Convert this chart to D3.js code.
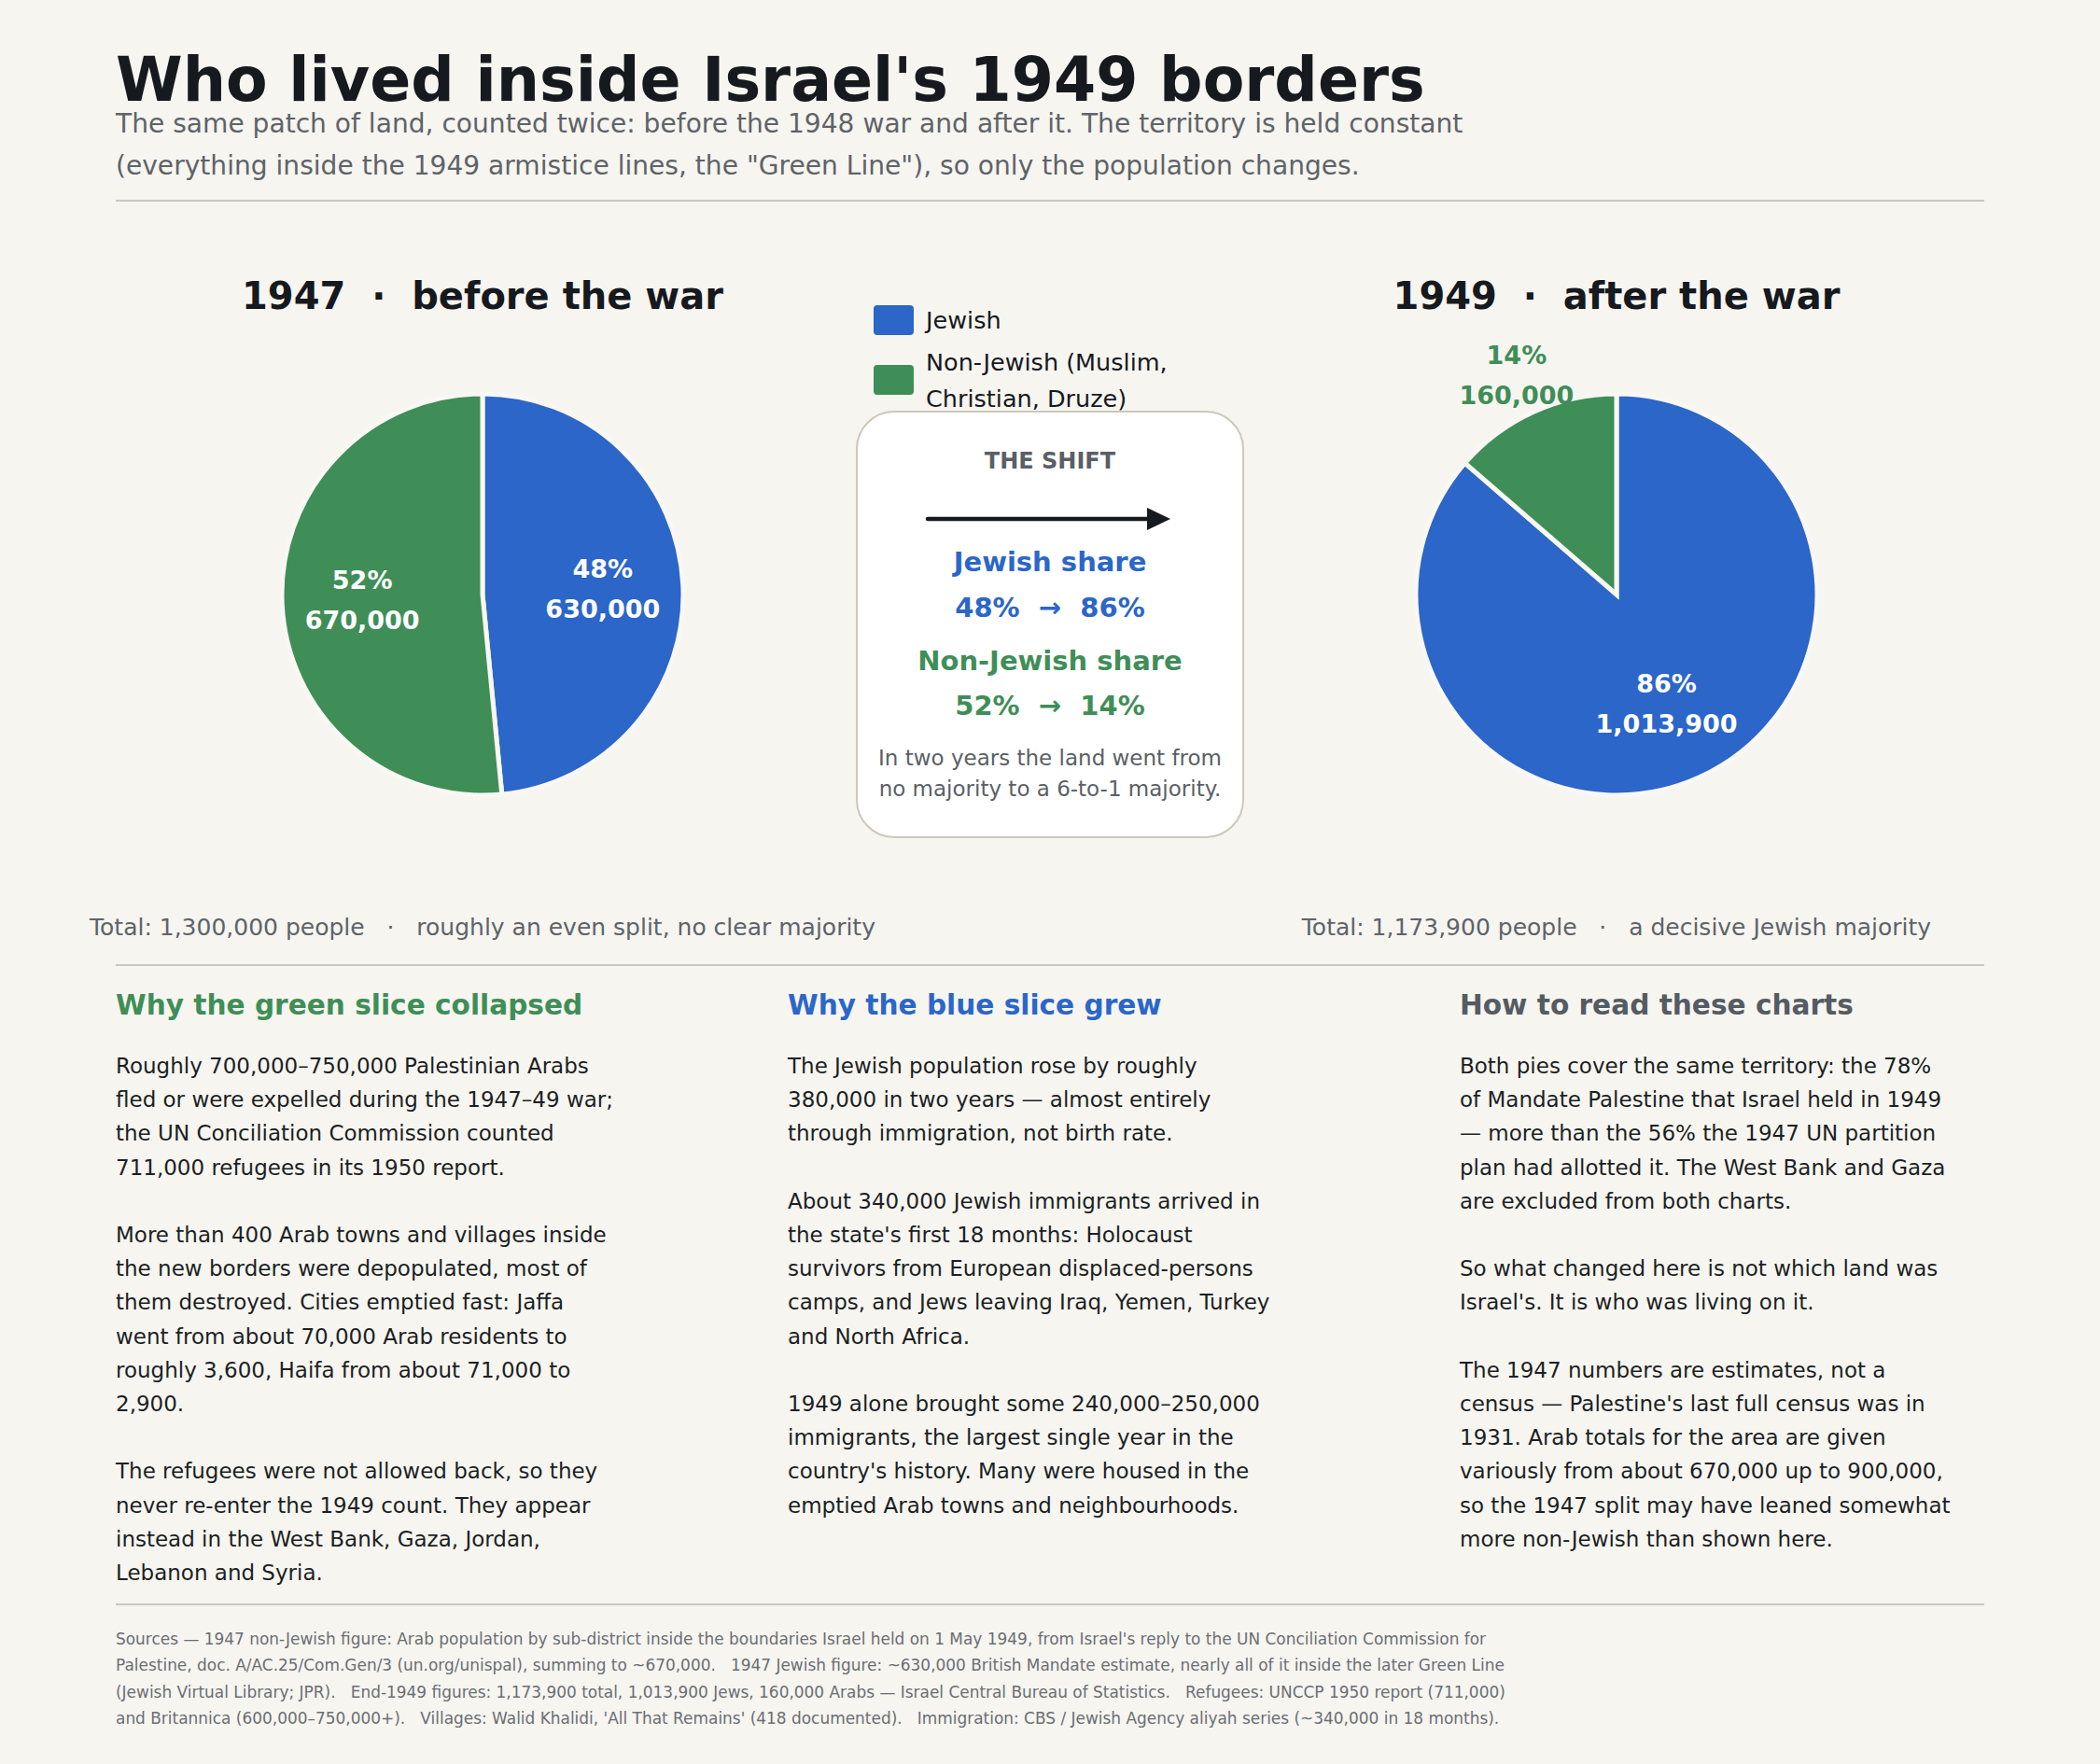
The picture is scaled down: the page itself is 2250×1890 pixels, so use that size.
<!DOCTYPE html>
<html>
<head>
<meta charset="utf-8">
<script src="https://cdn.jsdelivr.net/npm/d3@7"></script>
<style>
  body { margin: 0; background: #f6f5f0; }
  svg { display: block; font-family: "DejaVu Sans", sans-serif; }
</style>
</head>
<body>
<div id="chart"></div>
<script>
// DATA
const groups = ["Jewish", "Non-Jewish"]
const years = [1947, 1949]
const jewishPop = [630000, 1013900]
const nonJewishPop = [670000, 160000]
const pieTitles = ["1947  ·  before the war", "1949  ·  after the war"]
const totalNotes = ["roughly an even split, no clear majority", "a decisive Jewish majority"]
const legendLabels = [["Jewish"], ["Non-Jewish (Muslim,", "Christian, Druze)"]]

const titleText = "Who lived inside Israel's 1949 borders"
const subtitleLines = [
  "The same patch of land, counted twice: before the 1948 war and after it. The territory is held constant",
  "(everything inside the 1949 armistice lines, the \"Green Line\"), so only the population changes."
]

const shiftNote = ["In two years the land went from", "no majority to a 6-to-1 majority."]

const colHeads = ["Why the green slice collapsed", "Why the blue slice grew", "How to read these charts"]
const colTexts = [
  [
    "Roughly 700,000–750,000 Palestinian Arabs",
    "fled or were expelled during the 1947–49 war;",
    "the UN Conciliation Commission counted",
    "711,000 refugees in its 1950 report.",
    "",
    "More than 400 Arab towns and villages inside",
    "the new borders were depopulated, most of",
    "them destroyed. Cities emptied fast: Jaffa",
    "went from about 70,000 Arab residents to",
    "roughly 3,600, Haifa from about 71,000 to",
    "2,900.",
    "",
    "The refugees were not allowed back, so they",
    "never re-enter the 1949 count. They appear",
    "instead in the West Bank, Gaza, Jordan,",
    "Lebanon and Syria."
  ],
  [
    "The Jewish population rose by roughly",
    "380,000 in two years — almost entirely",
    "through immigration, not birth rate.",
    "",
    "About 340,000 Jewish immigrants arrived in",
    "the state's first 18 months: Holocaust",
    "survivors from European displaced-persons",
    "camps, and Jews leaving Iraq, Yemen, Turkey",
    "and North Africa.",
    "",
    "1949 alone brought some 240,000–250,000",
    "immigrants, the largest single year in the",
    "country's history. Many were housed in the",
    "emptied Arab towns and neighbourhoods."
  ],
  [
    "Both pies cover the same territory: the 78%",
    "of Mandate Palestine that Israel held in 1949",
    "— more than the 56% the 1947 UN partition",
    "plan had allotted it. The West Bank and Gaza",
    "are excluded from both charts.",
    "",
    "So what changed here is not which land was",
    "Israel's. It is who was living on it.",
    "",
    "The 1947 numbers are estimates, not a",
    "census — Palestine's last full census was in",
    "1931. Arab totals for the area are given",
    "variously from about 670,000 up to 900,000,",
    "so the 1947 split may have leaned somewhat",
    "more non-Jewish than shown here."
  ]
]

const sourceLines = [
  "Sources — 1947 non-Jewish figure: Arab population by sub-district inside the boundaries Israel held on 1 May 1949, from Israel's reply to the UN Conciliation Commission for",
  "Palestine, doc. A/AC.25/Com.Gen/3 (un.org/unispal), summing to ~670,000.   1947 Jewish figure: ~630,000 British Mandate estimate, nearly all of it inside the later Green Line",
  "(Jewish Virtual Library; JPR).   End-1949 figures: 1,173,900 total, 1,013,900 Jews, 160,000 Arabs — Israel Central Bureau of Statistics.   Refugees: UNCCP 1950 report (711,000)",
  "and Britannica (600,000–750,000+).   Villages: Walid Khalidi, 'All That Remains' (418 documented).   Immigration: CBS / Jewish Agency aliyah series (~340,000 in 18 months)."
]

// SETUP
const width = 2250
const height = 1890
const BG = "#f6f5f0"
const INK = "#16191d"
const GREY = "#5f6368"
const RULE = "#ccc8bc"
const color = d3.scaleOrdinal().domain(groups).range(["#2b66c8", "#3f8e57"])

const fmt = d3.format(",d")
const pct = d3.format(".0%")
// keep runs of spaces visible inside svg text
const keep = s => s.replace(/ {2,}/g, m => "\u00a0".repeat(m.length))

const svg = d3.select("#chart")
  .append("svg")
  .attr("width", width)
  .attr("height", height)

svg.append("rect")
  .attr("width", width)
  .attr("height", height)
  .attr("fill", BG)

// HEADER
svg.append("text")
  .attr("x", 124).attr("y", 108)
  .attr("font-size", 65).attr("font-weight", "bold")
  .attr("fill", INK)
  .text(titleText)

svg.selectAll(".subtitle")
  .data(subtitleLines)
  .join("text")
    .attr("class", "subtitle")
    .attr("x", 124)
    .attr("y", (d, i) => 142 + i * 45)
    .attr("font-size", 28.1)
    .attr("fill", GREY)
    .text(d => d)

const rule = y => svg.append("line")
  .attr("x1", 124).attr("x2", 2126)
  .attr("y1", y).attr("y2", y)
  .attr("stroke", RULE).attr("stroke-width", 2.2)

rule(215)
rule(1034)
rule(1719)

// PIES
const pieX = d3.scalePoint().domain(years).range([517, 1732])
const pieY = 637
const radius = 215

const pie = d3.pie().sort(null).value(d => d.value)
const arc = d3.arc().innerRadius(0).outerRadius(radius)
const labelArc = d3.arc().innerRadius(radius * 0.6).outerRadius(radius * 0.6)
const outerArc = d3.arc().innerRadius(radius * 1.2).outerRadius(radius * 1.2)

years.forEach((year, i) => {
  const rows = groups.map((g, j) => ({
    group: g,
    value: j === 0 ? jewishPop[i] : nonJewishPop[i]
  }))
  const total = d3.sum(rows, d => d.value)
  const slices = pie(rows)

  const g = svg.append("g")
    .attr("transform", `translate(${pieX(year)},${pieY})`)

  g.selectAll("path")
    .data(slices)
    .join("path")
      .attr("d", arc)
      .attr("fill", d => color(d.data.group))
      .attr("stroke", "#f8f7f3")
      .attr("stroke-width", 5)
      .attr("stroke-linejoin", "miter")

  // slice labels: inside if the slice is big enough, outside otherwise
  const lab = g.selectAll(".lab")
    .data(slices)
    .join("text")
      .attr("class", "lab")
      .attr("text-anchor", "middle")
      .attr("font-size", 27)
      .attr("font-weight", "bold")
      .attr("fill", d => d.data.value / total < 0.2 ? color(d.data.group) : "#ffffff")
      .attr("transform", d => {
        const c = d.data.value / total < 0.2 ? outerArc.centroid(d) : labelArc.centroid(d)
        return `translate(${c[0]},${c[1]})`
      })

  lab.append("tspan")
    .attr("x", 0).attr("y", -12)
    .text(d => pct(d.data.value / total))
  lab.append("tspan")
    .attr("x", 0).attr("y", 31)
    .text(d => fmt(d.data.value))

  // panel title
  svg.append("text")
    .attr("x", pieX(year)).attr("y", 331)
    .attr("text-anchor", "middle")
    .attr("font-size", 40).attr("font-weight", "bold")
    .attr("fill", INK)
    .text(keep(pieTitles[i]))

  // total line under the pie
  svg.append("text")
    .attr("x", pieX(year)).attr("y", 1002)
    .attr("text-anchor", "middle")
    .attr("font-size", 25)
    .attr("fill", GREY)
    .text(keep(`Total: ${fmt(total)} people   ·   ${totalNotes[i]}`))
})

// LEGEND
const legend = svg.append("g")
const legendY = [327, 391]
legend.selectAll("rect")
  .data(groups)
  .join("rect")
    .attr("x", 936)
    .attr("y", (d, i) => legendY[i])
    .attr("width", 43).attr("height", 32)
    .attr("rx", 4)
    .attr("fill", d => color(d))

const legendText = legend.selectAll("text")
  .data(legendLabels)
  .join("text")
    .attr("font-size", 25.5)
    .attr("fill", INK)
legendText.selectAll("tspan")
  .data((d, i) => d.map((line, k) => ({ line, y: i === 0 ? 352 : 396.5 + k * 39.5 })))
  .join("tspan")
    .attr("x", 992)
    .attr("y", d => d.y)
    .text(d => d.line)

// THE SHIFT BOX
const boxX = 1125
svg.append("rect")
  .attr("x", 918).attr("y", 441)
  .attr("width", 414).attr("height", 456)
  .attr("rx", 40)
  .attr("fill", "#ffffff")
  .attr("stroke", "#cdc8bb")
  .attr("stroke-width", 2)

svg.append("text")
  .attr("x", boxX).attr("y", 502)
  .attr("text-anchor", "middle")
  .attr("font-size", 24).attr("font-weight", "bold")
  .attr("fill", "#5a5f66")
  .text("THE SHIFT")

svg.append("line")
  .attr("x1", 994).attr("x2", 1234)
  .attr("y1", 556).attr("y2", 556)
  .attr("stroke", INK).attr("stroke-width", 4.5)
  .attr("stroke-linecap", "round")
svg.append("path")
  .attr("d", "M1229,544 L1254,556 L1229,568 Z")
  .attr("fill", INK)

const shares = groups.map((g, j) => {
  const src = j === 0 ? jewishPop : nonJewishPop
  return years.map((y, i) => src[i] / (jewishPop[i] + nonJewishPop[i]))
})
const shiftY = [[612, 661], [718, 766]]
groups.forEach((g, j) => {
  svg.append("text")
    .attr("x", boxX).attr("y", shiftY[j][0])
    .attr("text-anchor", "middle")
    .attr("font-size", 29).attr("font-weight", "bold")
    .attr("fill", color(g))
    .text(`${g} share`)
  svg.append("text")
    .attr("x", boxX).attr("y", shiftY[j][1])
    .attr("text-anchor", "middle")
    .attr("font-size", 29).attr("font-weight", "bold")
    .attr("fill", color(g))
    .text(keep(`${pct(shares[j][0])}  →  ${pct(shares[j][1])}`))
})

svg.selectAll(".note")
  .data(shiftNote)
  .join("text")
    .attr("class", "note")
    .attr("x", boxX)
    .attr("y", (d, i) => 820 + i * 33)
    .attr("text-anchor", "middle")
    .attr("font-size", 23)
    .attr("fill", "#5a5f66")
    .text(d => d)

// EXPLAINER COLUMNS
const colX = [124, 844, 1564]
const headColor = [color("Non-Jewish"), color("Jewish"), "#555b63"]

colHeads.forEach((h, i) => {
  svg.append("text")
    .attr("x", colX[i]).attr("y", 1087)
    .attr("font-size", 29.6).attr("font-weight", "bold")
    .attr("fill", headColor[i])
    .text(h)

  svg.append("g")
    .selectAll("text")
    .data(colTexts[i])
    .join("text")
      .attr("x", colX[i])
      .attr("y", (d, k) => 1150 + k * 36.2)
      .attr("font-size", 23)
      .attr("fill", "#1c1f23")
      .text(d => d)
})

// SOURCES
svg.selectAll(".src")
  .data(sourceLines)
  .join("text")
    .attr("class", "src")
    .attr("x", 124)
    .attr("y", (d, i) => 1762 + i * 28.4)
    .attr("font-size", 16.95)
    .attr("fill", "#6b6e73")
    .text(d => keep(d))
</script>
</body>
</html>
